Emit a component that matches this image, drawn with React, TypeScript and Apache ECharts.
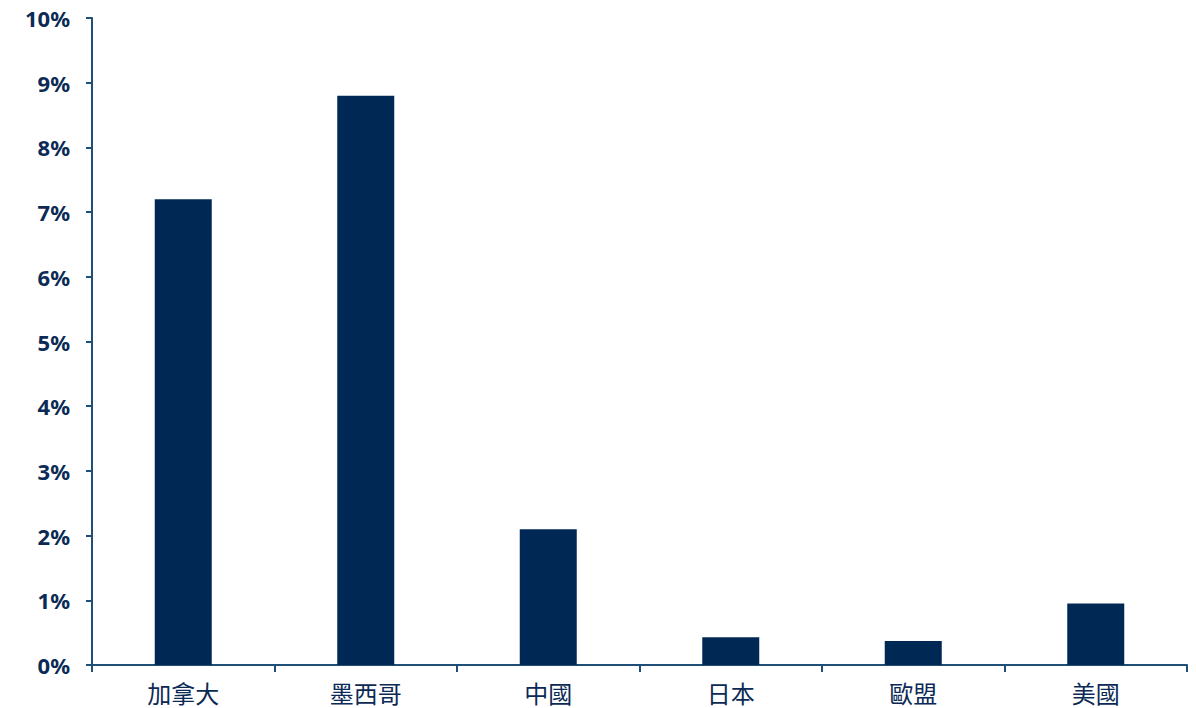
import React, { useEffect, useRef } from "react";
import * as echarts from "echarts";

const categories = ["加拿大", "墨西哥", "中國", "日本", "歐盟", "美國"];
const values = [7.2, 8.8, 2.1, 0.43, 0.37, 0.95];
const yTicks = { min: 0, max: 10, interval: 1 };

export default function App() {
  const ref = useRef<HTMLDivElement>(null);
  useEffect(() => {
    if (!ref.current) return;
    const chart = echarts.init(ref.current, undefined, { renderer: "svg" });
    const axisColor = "#1f4e79";
    const textColor = "#0b2a55";
    chart.setOption({
      animation: false,
      backgroundColor: "#ffffff",
      grid: { left: 92, right: 9, top: 18, bottom: 43, containLabel: false },
      xAxis: {
        type: "category",
        data: categories,
        axisLine: { show: true, lineStyle: { color: axisColor, width: 2 } },
        axisTick: { show: true, alignWithLabel: false, length: 7, lineStyle: { color: axisColor, width: 2 } },
        axisLabel: {
          color: textColor,
          fontSize: 24,
          fontFamily: "Noto Sans CJK TC",
          margin: 15,
        },
        splitLine: { show: false },
      },
      yAxis: {
        type: "value",
        min: yTicks.min,
        max: yTicks.max,
        interval: yTicks.interval,
        axisLine: { show: true, lineStyle: { color: axisColor, width: 2 } },
        axisTick: { show: true, length: 6, lineStyle: { color: axisColor, width: 2 } },
        axisLabel: {
          color: textColor,
          fontSize: 22,
          fontWeight: "bold",
          fontFamily: "Noto Sans",
          margin: 22,
          formatter: (v: number) => `${v}%`,
        },
        splitLine: { show: false },
      },
      series: [
        {
          type: "bar",
          data: values,
          barWidth: 57,
          itemStyle: { color: "#002855" },
        },
      ],
    });
    return () => chart.dispose();
  }, []);
  return (
    <div
      ref={ref}
      style={{ position: "absolute", left: 0, top: 0, width: 1196, height: 708 }}
    />
  );
}
